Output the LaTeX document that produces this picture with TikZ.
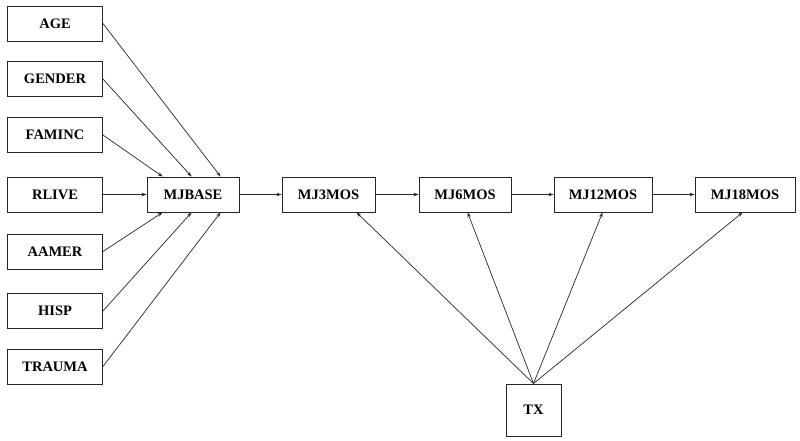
\documentclass[tikz,border=0pt]{standalone}
\usepackage{fontspec}
\setmainfont{Liberation Serif}
\usetikzlibrary{arrows.meta,calc}
\begin{document}
\begin{tikzpicture}[x=1pt,y=-1pt,
  box/.style={draw=black!85,line width=0.9pt,rectangle,inner sep=0pt,font=\fontsize{14.5}{16}\selectfont\bfseries},
  arr/.style={draw=black!85,line width=0.7pt,-{Stealth[length=5pt,width=3.5pt]}}]
\useasboundingbox (0,0) rectangle (800,440);
\node[box,minimum width=95pt,minimum height=35pt] (age) at (55,23.5) {AGE};
\node[box,minimum width=95pt,minimum height=35pt] (gender) at (55,79) {GENDER};
\node[box,minimum width=95pt,minimum height=35pt] (faminc) at (55,135) {FAMINC};
\node[box,minimum width=95pt,minimum height=35pt] (rlive) at (55,194.5) {RLIVE};
\node[box,minimum width=95pt,minimum height=35pt] (aamer) at (55,251.5) {AAMER};
\node[box,minimum width=95pt,minimum height=35pt] (hisp) at (55,311) {HISP};
\node[box,minimum width=95pt,minimum height=35pt] (trauma) at (55,366.5) {TRAUMA};
\node[box,minimum width=92pt,minimum height=35pt] (mjbase) at (193,194.5) {MJBASE};
\node[box,minimum width=93pt,minimum height=35pt] (mj3) at (328.5,194.5) {MJ3MOS};
\node[box,minimum width=92pt,minimum height=35pt] (mj6) at (465,194.5) {MJ6MOS};
\node[box,minimum width=98pt,minimum height=35pt] (mj12) at (603,194.5) {MJ12MOS};
\node[box,minimum width=100pt,minimum height=35pt] (mj18) at (745,194.5) {MJ18MOS};
\node[box,minimum width=55pt,minimum height=52pt] (tx) at (533.5,410) {TX};
% inputs to MJBASE
\draw[arr] (age.east) -- ($(mjbase.north west)+(74,0)$);
\draw[arr] (gender.east) -- ($(mjbase.north west)+(45,0)$);
\draw[arr] (faminc.east) -- ($(mjbase.north west)+(16,0)$);
\draw[arr] (rlive.east) -- (mjbase.west);
\draw[arr] (aamer.east) -- ($(mjbase.south west)+(16,0)$);
\draw[arr] (hisp.east) -- ($(mjbase.south west)+(45,0)$);
\draw[arr] (trauma.east) -- ($(mjbase.south west)+(74,0)$);
% chain
\draw[arr] (mjbase.east) -- (mj3.west);
\draw[arr] (mj3.east) -- (mj6.west);
\draw[arr] (mj6.east) -- (mj12.west);
\draw[arr] (mj12.east) -- (mj18.west);
% TX
\draw[arr] (tx.north) -- ($(mj3.south west)+(75,0)$);
\draw[arr] (tx.north) -- ($(mj6.south west)+(49,0)$);
\draw[arr] (tx.north) -- ($(mj12.south west)+(49,0)$);
\draw[arr] (tx.north) -- ($(mj18.south west)+(48,0)$);
\end{tikzpicture}
\end{document}
